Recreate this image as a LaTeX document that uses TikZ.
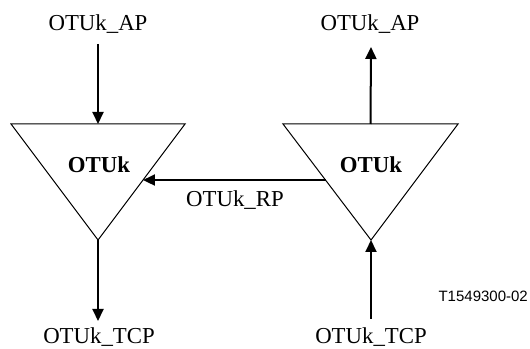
\documentclass[tikz,border=0pt]{standalone}
\usepackage{fontspec}
\setmainfont{Liberation Serif}
\newfontfamily\figsans{Liberation Sans}
\usetikzlibrary{arrows.meta,calc}

\begin{document}
\begin{tikzpicture}[x=1pt,y=1pt,line join=miter]
	\tikzstyle{biao}=[inner sep=0pt,anchor=base,font=\fontsize{22.8}{27}\selectfont];
	\tikzstyle{kuai}=[draw,line width=1pt];
	\tikzstyle{jian}=[line width=2pt,-{Triangle[length=12pt,width=11pt]}];
	\useasboundingbox (0,0) rectangle (530,348);
	%% left triangle
	\coordinate (LA) at (11,224);
	\coordinate (LB) at (185,224);
	\coordinate (LC) at (98,108);
	\draw[kuai] (LA) -- (LB) -- (LC) -- cycle;
	\node[biao,font=\fontsize{22.8}{27}\selectfont\bfseries] (Lname) at (99,175) {OTUk};
	%% right triangle
	\coordinate (RA) at (283,224);
	\coordinate (RB) at (458,224);
	\coordinate (RC) at (371,108);
	\draw[kuai] (RA) -- (RB) -- (RC) -- cycle;
	\node[biao,font=\fontsize{22.8}{27}\selectfont\bfseries] (Rname) at (371,175) {OTUk};
	%% labels
	\node[biao] (Lap)  at (98,317)  {OTUk\_AP};
	\node[biao] (Rap)  at (370,317) {OTUk\_AP};
	\node[biao] (rp)   at (235,141) {OTUk\_RP};
	\node[biao] (Ltcp) at (99,4.5)  {OTUk\_TCP};
	\node[biao] (Rtcp) at (371,4.5) {OTUk\_TCP};
	\node[inner sep=0pt,anchor=base east,font=\figsans\fontsize{15}{18}\selectfont] (num) at (528,46) {T1549300-02};
	%% connectors
	\coordinate (Lin)   at (98,304);
	\coordinate (Lout)  at (98,27);
	\coordinate (Rout)  at (371,301);
	\coordinate (Rin)   at (371,29);
	\coordinate (Ltop)  at ($(LA)!.5!(LB)$);
	\coordinate (Rtop)  at ($(RA)!.5!(RB)$);
	\coordinate (rpL)   at ($(LB)!.483!(LC)$);
	\coordinate (rpR)   at ($(RA)!.483!(RC)$);
	\draw[jian] (Lin) -- (Ltop);
	\draw[jian] (LC) -- (Lout);
	\draw[jian] (Rtop) -- (Rout);
	\draw[jian] (Rin) -- (RC);
	\draw[jian] (rpR) -- (rpL);
\end{tikzpicture}
\end{document}
